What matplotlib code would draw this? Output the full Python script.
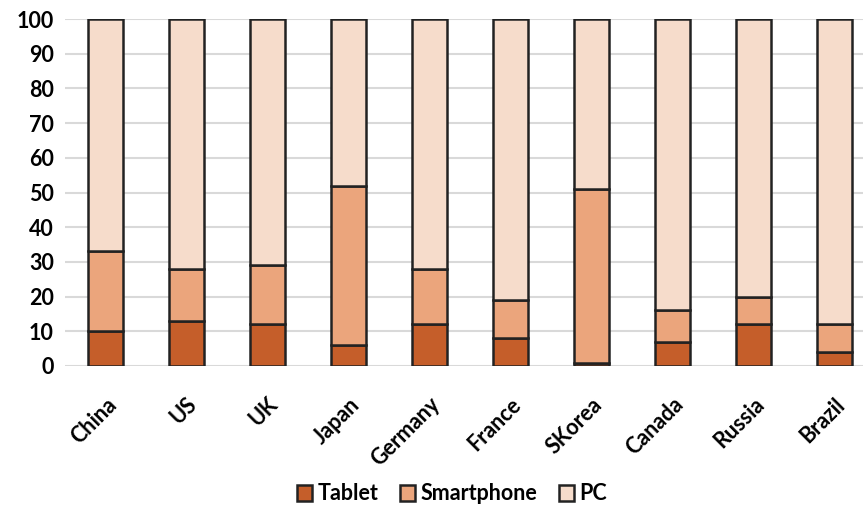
import matplotlib
matplotlib.use("Agg")
import matplotlib.pyplot as plt
import numpy as np

countries = ["China", "US", "UK", "Japan", "Germany", "France", "SKorea", "Canada", "Russia", "Brazil"]
tablet = [10, 13, 12, 6, 12, 8, 1, 7, 12, 4]
smartphone = [23, 15, 17, 46, 16, 11, 50, 9, 8, 8]
pc = [67, 72, 71, 48, 72, 81, 49, 84, 80, 88]

colors = ["#C55E2A", "#EBA57C", "#F6DCCB"]

plt.rcParams['font.family'] = ['Lato', 'DejaVu Sans']
plt.rcParams['font.weight'] = 'bold'

fig = plt.figure(figsize=(8.63, 5.09), dpi=100)
ax = fig.add_axes([65 / 863, 1 - 366 / 509, 810 / 863, 347 / 509])

x = np.arange(len(countries))
w = 0.42
bottom = np.zeros(len(countries))
for vals, col, name in zip([tablet, smartphone, pc], colors, ["Tablet", "Smartphone", "PC"]):
    ax.bar(x, vals, w, bottom=bottom, color=col, edgecolor="#222222", linewidth=1.8,
           label=name, zorder=3)
    bottom += np.array(vals)

ax.set_xlim(-0.5, 9.5)
ax.set_ylim(0, 100)
ax.set_yticks(range(0, 101, 10))
ax.yaxis.grid(True, color="#D9D9D9", linewidth=1.5, zorder=0)
ax.set_axisbelow(True)
for s in ax.spines.values():
    s.set_visible(False)
ax.tick_params(axis="both", length=0, labelsize=15.5)
ax.tick_params(axis="y", pad=8)
ax.set_xticks(x)
ax.set_xticklabels(countries, rotation=45, ha="right", rotation_mode="anchor")
ax.tick_params(axis="x", pad=20)

leg = fig.legend(loc="center", bbox_to_anchor=(452 / 863, 1 - 494 / 509), ncol=3, frameon=False,
                 fontsize=15.5, handlelength=0.7, handleheight=0.7, handletextpad=0.25,
                 columnspacing=1.0)

fig.savefig("out.png", dpi=100)
